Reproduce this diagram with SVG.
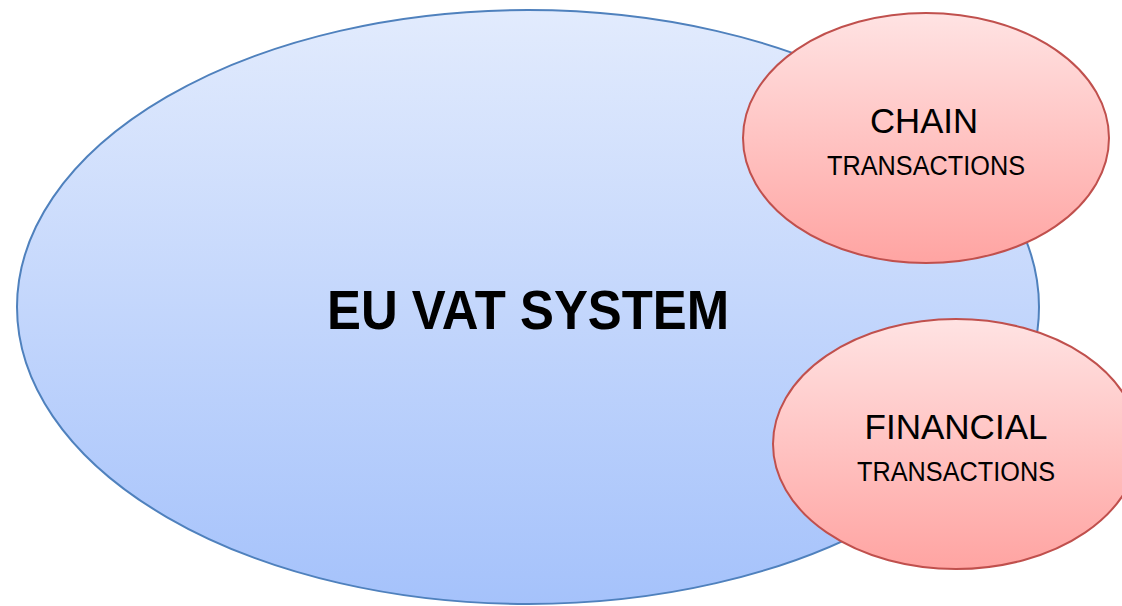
<svg xmlns="http://www.w3.org/2000/svg" width="1122" height="606" viewBox="0 0 1122 606">
<defs>
<linearGradient id="blueGrad" x1="0" y1="0" x2="0" y2="1">
<stop offset="0" stop-color="#e2ebfd"/>
<stop offset="1" stop-color="#a5c2fb"/>
</linearGradient>
<linearGradient id="redGrad" x1="0" y1="0" x2="0" y2="1">
<stop offset="0" stop-color="#ffe3e3"/>
<stop offset="1" stop-color="#ffa4a2"/>
</linearGradient>
<style>
.big{fill:url(#blueGrad);stroke:#4f81bd;stroke-width:2}
.small{fill:url(#redGrad);stroke:#c0504d;stroke-width:2}
text{font-family:"Liberation Sans",Arial,sans-serif;fill:#000;text-anchor:middle}
.title{font-weight:bold;font-size:56px}
.l1{font-size:35px}
.l2{font-size:27px}
</style>
</defs>
<rect width="1122" height="606" fill="#ffffff"/>
<g id="connectors"></g>
<g id="eu-vat-system">
<ellipse class="big" cx="528" cy="307" rx="511" ry="297"/>
<text class="title" x="528" y="329" textLength="402" lengthAdjust="spacingAndGlyphs">EU VAT SYSTEM</text>
</g>
<g id="chain-transactions">
<ellipse class="small" cx="926" cy="138" rx="183" ry="125"/>
<text class="l1" x="924" y="133" textLength="108" lengthAdjust="spacingAndGlyphs">CHAIN</text>
<text class="l2" x="926" y="175" textLength="198" lengthAdjust="spacingAndGlyphs">TRANSACTIONS</text>
</g>
<g id="financial-transactions">
<ellipse class="small" cx="956" cy="444" rx="183" ry="125"/>
<text class="l1" x="956" y="439" textLength="183" lengthAdjust="spacingAndGlyphs">FINANCIAL</text>
<text class="l2" x="956" y="481" textLength="198" lengthAdjust="spacingAndGlyphs">TRANSACTIONS</text>
</g>
</svg>
